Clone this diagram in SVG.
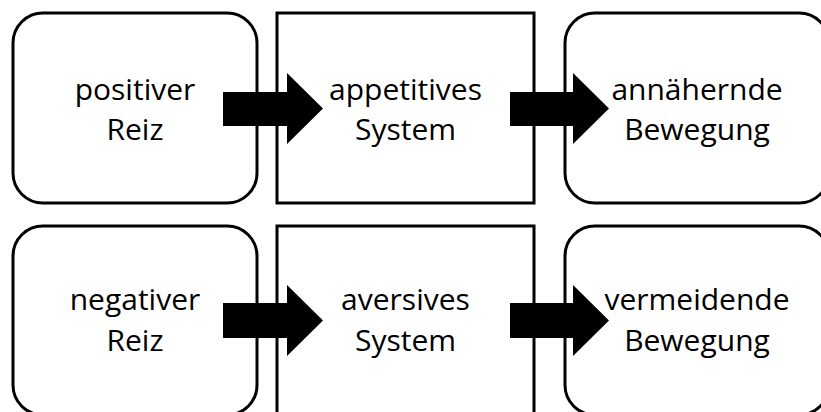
<svg xmlns="http://www.w3.org/2000/svg" width="821" height="412" viewBox="0 0 821 412">
<style>
.box{fill:#fff;stroke:#000;stroke-width:3}
.t{font-family:"Open Sans","Liberation Sans",sans-serif;font-size:30px;fill:#000;text-anchor:middle}
.arr{fill:#000;stroke:none}
</style>
<rect x="0" y="0" width="821" height="412" fill="#fff"/>
<g id="n1"><rect class="box" x="13" y="13" width="244" height="190" rx="30" ry="30"/><text class="t" x="135" y="100">positiver</text><text class="t" x="135" y="140">Reiz</text></g>
<g id="n2"><rect class="box" x="277" y="13" width="257" height="190"/><text class="t" x="405.5" y="100">appetitives</text><text class="t" x="405.5" y="140">System</text></g>
<g id="n3"><rect class="box" x="565" y="13" width="264" height="190" rx="30" ry="30"/><text class="t" x="697" y="100">annähernde</text><text class="t" x="697" y="140">Bewegung</text></g>
<g id="n4"><rect class="box" x="13" y="226" width="244" height="189" rx="30" ry="30"/><text class="t" x="135" y="310">negativer</text><text class="t" x="135" y="351">Reiz</text></g>
<g id="n5"><rect class="box" x="277" y="226" width="257" height="189"/><text class="t" x="405.5" y="310">aversives</text><text class="t" x="405.5" y="351">System</text></g>
<g id="n6"><rect class="box" x="565" y="226" width="264" height="189" rx="30" ry="30"/><text class="t" x="697" y="310">vermeidende</text><text class="t" x="697" y="351">Bewegung</text></g>
<g id="connectors">
<polygon class="arr" points="223,92 287,92 287,73 323,108.5 287,144 287,126 223,126"/>
<polygon class="arr" points="510,92 573,92 573,73 609,108.5 573,144 573,126 510,126"/>
<polygon class="arr" points="223,303 287,303 287,285 323,320.5 287,356 287,338 223,338"/>
<polygon class="arr" points="510,303 573,303 573,285 609,320.5 573,356 573,338 510,338"/>
</g>
</svg>
